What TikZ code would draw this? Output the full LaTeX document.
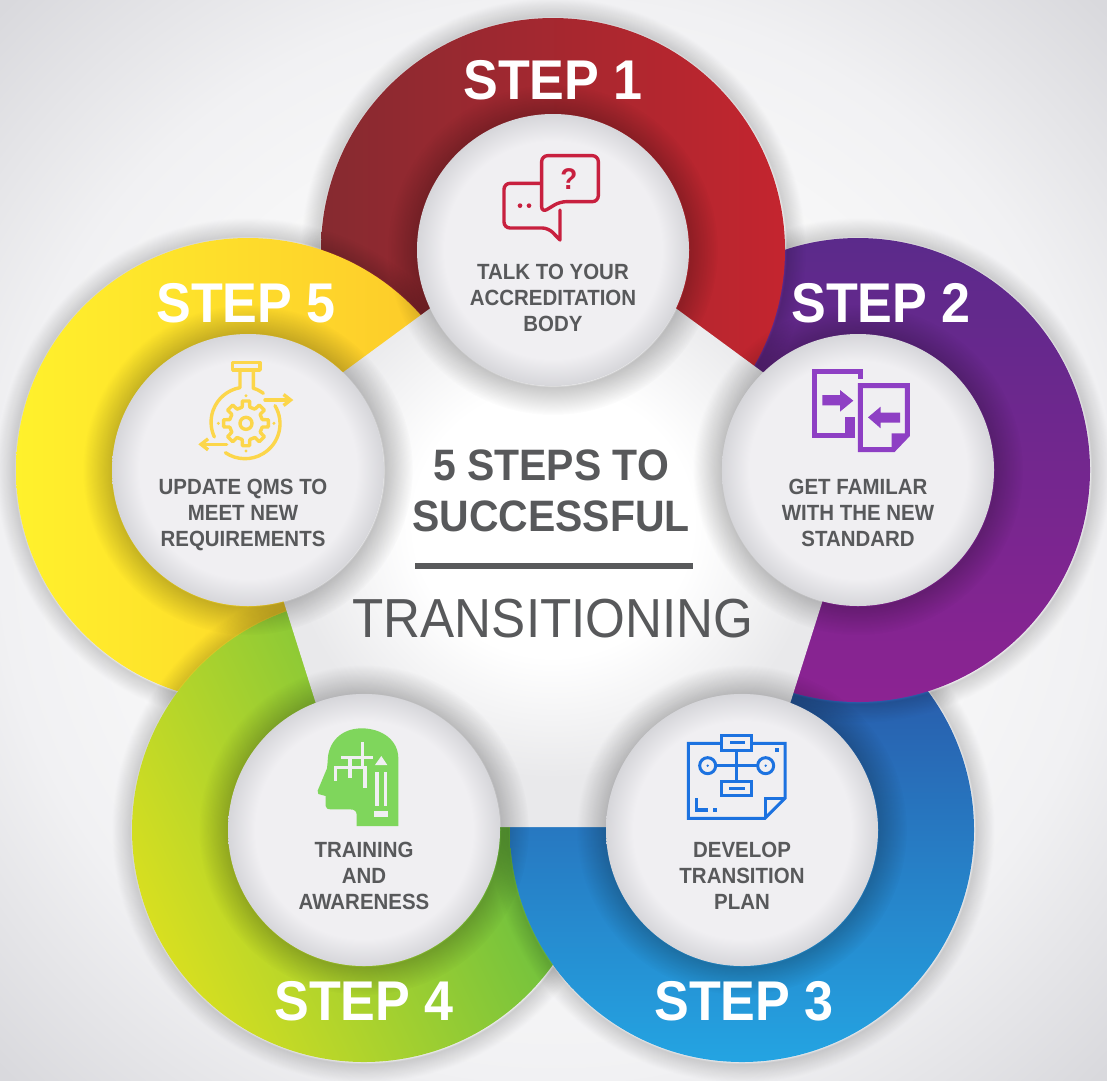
\documentclass[tikz,border=0pt]{standalone}
\usepackage{xcolor}
\usepackage{fontspec}
\setmainfont[FakeStretch=0.93]{Liberation Sans}
\usetikzlibrary{positioning, fadings, arrows.meta}

\definecolor{discgrey}{HTML}{F0EFF2}
\definecolor{discrim}{HTML}{D6D6DA}
\definecolor{inkgrey}{HTML}{58595B}
\definecolor{iconred}{HTML}{C8203F}
\definecolor{iconviolet}{HTML}{8E3FC4}
\definecolor{iconblue}{HTML}{1C72E0}
\definecolor{icongreen}{HTML}{7FD65C}
\definecolor{iconyellow}{HTML}{FCD64A}
\definecolor{backmid}{HTML}{F1F1F3}
\definecolor{backcorner}{HTML}{D9D9DD}
\definecolor{pentaedge}{HTML}{E9E9EB}
\definecolor{bluetop}{HTML}{2A4DA0}
\definecolor{bluebottom}{HTML}{24A4E2}

\pgfdeclareradialshading{backshade}{\pgfpointorigin}{color(0bp)=(white); color(15bp)=(white!98!black); color(25bp)=(backmid); color(35bp)=(backcorner); color(50bp)=(backcorner)}
\pgfdeclareradialshading{penta}{\pgfpointorigin}{color(0bp)=(white); color(11bp)=(white); color(21bp)=(pentaedge); color(50bp)=(pentaedge)}
\pgfdeclareradialshading{discshade}{\pgfpointorigin}{color(0bp)=(discgrey); color(20bp)=(discgrey); color(25bp)=(discrim); color(50bp)=(discrim)}
\pgfdeclareradialshading{discglow}{\pgfpointorigin}{color(0bp)=(transparent!100); color(20.4bp)=(transparent!100); color(20.6bp)=(transparent!78); color(25bp)=(transparent!100); color(50bp)=(transparent!100)}
\pgfdeclareradialshading{ringglow}{\pgfpointorigin}{color(0bp)=(transparent!100); color(22bp)=(transparent!100); color(22.2bp)=(transparent!84); color(24bp)=(transparent!100); color(50bp)=(transparent!100)}
\pgfdeclarefading{discfade}{\pgfuseshading{discglow}}
\pgfdeclarefading{ringfade}{\pgfuseshading{ringglow}}

\begin{document}
\begin{tikzpicture}[x=1pt, y=-1pt, on grid,
    ring/.style={circle, minimum size=464pt, inner sep=0pt},
    ringhalo/.style={black, path fading=ringfade},
    disc/.style={circle, minimum size=272pt, inner sep=0pt, shading=discshade},
    dischalo/.style={black, path fading=discfade},
    steptext/.style={white, font=\fontsize{56}{60}\selectfont\bfseries},
    disctext/.style={inkgrey, align=center, font=\fontsize{22}{26}\selectfont\bfseries},
    icon/.style={line width=3.4pt, line join=round, line cap=round},
    barb/.style={-{Straight Barb[length=7pt, width=11pt]}}]

    % Fond
    \useasboundingbox (0,0) rectangle (1107,1080);
    \shade[shading=backshade] (0,0) rectangle (1107,1080);

    % Centres des anneaux
    \coordinate (c1) at (553,250);
    \coordinate (c2) at (858,470);
    \coordinate (c3) at (742,830);
    \coordinate (c4) at (364,830);
    \coordinate (c5) at (248,470);

    % Anneaux
    \fill[ringhalo] (c3) circle (262);
    \node[ring, top color=bluetop, bottom color=bluebottom, shading angle=0] (ring3) at (c3) {};
    \fill[ringhalo] (c2) circle (262);
    \node[ring, top color={rgb,255:red,91;green,42;blue,139}, bottom color={rgb,255:red,140;green,35;blue,146}, shading angle=0] (ring2) at (c2) {};
    \fill[ringhalo] (c1) circle (262);
    \node[ring, top color={rgb,255:red,196;green,37;blue,47}, bottom color={rgb,255:red,134;green,42;blue,48}, shading angle=-90] (ring1) at (c1) {};
    \fill[ringhalo] (c5) circle (262);
    \node[ring, top color={rgb,255:red,253;green,198;blue,42}, bottom color={rgb,255:red,255;green,241;blue,44}, shading angle=-90] (ring5) at (c5) {};
    \fill[ringhalo] (c4) circle (262);
    \node[ring, top color={rgb,255:red,79;green,184;blue,72}, bottom color={rgb,255:red,216;green,223;blue,32}, shading angle=-65] (ring4) at (c4) {};

    % Le bleu repasse sur le vert
    \begin{scope}
        \clip (c4) circle (232);
        \fill[ringhalo] (c3) circle (262);
    \end{scope}
    \begin{scope}
        \clip (c4) circle (262);
        \node[ring, top color=bluetop, bottom color=bluebottom, shading angle=0] at (c3) {};
    \end{scope}

    % Pentagone central
    \shade[shading=penta] (553,218) -- (870,451) -- (751,827) -- (355,827) -- (236,451) -- cycle;

    % Disques
    \fill[dischalo] (c1) circle (165);
    \fill[dischalo] (c2) circle (165);
    \fill[dischalo] (c3) circle (165);
    \fill[dischalo] (c4) circle (165);
    \fill[dischalo] (c5) circle (165);
    \node[disc] (disc1) at (c1) {};
    \node[disc] (disc2) at (c2) {};
    \node[disc] (disc3) at (c3) {};
    \node[disc] (disc4) at (c4) {};
    \node[disc] (disc5) at (c5) {};

    % Titres des anneaux
    \node[steptext, above=170pt of disc1] (step1) {STEP 1};
    \node[steptext, above right=167pt and 23pt of disc2] (step2) {STEP 2};
    \node[steptext, below right=171pt and 2pt of disc3] (step3) {STEP 3};
    \node[steptext, below=171pt of disc4] (step4) {STEP 4};
    \node[steptext, above left=167pt and 2pt of disc5] (step5) {STEP 5};

    % Textes des disques
    \node[disctext, below=48pt of disc1] (text1) {TALK TO YOUR\\ACCREDITATION\\BODY};
    \node[disctext, below=43pt of disc2] (text2) {GET FAMILAR\\WITH THE NEW\\STANDARD};
    \node[disctext, below=46pt of disc3] (text3) {DEVELOP\\TRANSITION\\PLAN};
    \node[disctext, below=46pt of disc4] (text4) {TRAINING\\AND\\AWARENESS};
    \node[disctext, below=45pt of disc5, xshift=-5pt] (text5) {UPDATE QMS TO\\MEET NEW\\REQUIREMENTS};

    % Titre central
    \node[inkgrey, align=center, font=\fontsize{44}{51}\selectfont\bfseries] (title) at (551,491) {5 STEPS TO\\SUCCESSFUL};
    \node[inkgrey, font=\fontsize{55}{60}\selectfont] (trans) at (553,619) {TRANSITIONING};
    \coordinate (ruleL) at (415,566);
    \coordinate (ruleR) at (693,566);
    \draw[inkgrey, line width=6pt] (ruleL) -- (ruleR);

    % Icone : bulles
    \begin{scope}[shift={(480,140)}, x=.3333pt, y=-.3333pt, iconred, icon]
        \draw[rounded corners=6pt] (185,218) -- (185,47) -- (355,47) -- (355,185) -- (240,185) -- cycle;
        \draw[rounded corners=6pt] (180,130) -- (72,130) -- (72,264) -- (205,264) [sharp corners] -- (240,300) -- (240,210);
        \fill (120,197) circle (7);
        \fill (147,197) circle (7);
        \node[font=\fontsize{30}{30}\selectfont\bfseries] (ask) at (267,117) {?};
    \end{scope}

    % Icone : documents
    \begin{scope}[shift={(790,360)}, x=.3333pt, y=-.3333pt, iconviolet]
        \draw[line width=5pt] (195,226) -- (74,226) -- (74,35) -- (212,35) -- (212,58);
        \fill (165,172) -- (195,172) -- (195,233) -- (165,233) -- cycle;
        \draw[line width=5pt] (352,225) -- (352,77) -- (211,77) -- (211,269) -- (310,269) -- cycle;
        \fill (305,220) -- (358,220) -- (358,228) -- (312,275) -- (305,275) -- cycle;
        \fill (97,105) -- (150,105) -- (150,90) -- (190,122) -- (150,155) -- (150,136) -- (97,136) -- cycle;
        \fill (330,158) -- (272,158) -- (272,140) -- (234,172) -- (272,205) -- (272,188) -- (330,188) -- cycle;
    \end{scope}

    % Icone : plan
    \begin{scope}[shift={(670,725)}, x=.3333pt, y=-.3333pt, iconblue, line width=3pt]
        \draw (155,55) -- (55,55) -- (55,280) -- (285,280) -- (345,220) -- (345,55) -- (245,55);
        \draw (285,280) -- (285,220) -- (345,220);
        \draw (155,32) rectangle (245,75);
        \draw (180,52) -- (225,52);
        \draw (155,168) rectangle (245,212);
        \draw (178,190) -- (225,190);
        \draw (200,75) -- (200,168);
        \draw (137,122) -- (263,122);
        \draw (113,122) circle (24);
        \draw (287,122) circle (24);
        \fill (113,122) circle (4);
        \fill (287,122) circle (4);
        \fill (315,70) rectangle (328,82);
        \draw[line width=3.2pt] (80,220) -- (80,255) -- (115,255);
        \fill (128,248) rectangle (141,260);
    \end{scope}

    % Icone : tete
    \begin{scope}[shift={(305,720)}, x=.3333pt, y=-.3333pt]
        \fill[icongreen] (280,318) -- (280,115) .. controls (280,60) and (230,25) .. (170,25)
            .. controls (110,25) and (68,65) .. (68,125) -- (66,145) -- (38,212) -- (40,222) -- (62,228) -- (62,258)
            .. controls (62,265) and (68,268) .. (78,268) -- (135,268) .. controls (150,268) and (155,275) .. (155,285) -- (155,318) -- cycle;
        \draw[discgrey, line width=3.6pt] (108,112) -- (205,112);
        \draw[discgrey, line width=3.6pt] (172,66) -- (172,143);
        \draw[discgrey, line width=3.6pt] (92,182) -- (92,143) -- (185,143);
        \draw[discgrey, line width=3.6pt] (135,112) -- (135,175);
        \draw[discgrey, line width=3.6pt] (180,143) -- (180,203);
        \fill[discgrey] (210,135) -- (247,135) -- (229,108) -- cycle;
        \fill[discgrey] (210,155) rectangle (222,258);
        \fill[discgrey] (236,155) rectangle (247,258);
        \fill[discgrey] (208,272) rectangle (250,292);
    \end{scope}

    % Icone : fiole
    \begin{scope}[shift={(185,355)}, x=.3333pt, y=-.3333pt, iconyellow, icon]
        \draw (143,22) rectangle (225,45);
        \draw (165,45) -- (165,98) arc[start angle=260, end angle=155, radius=105];
        \draw (205,45) -- (205,100) .. controls (215,102) and (225,108) .. (235,115);
        \draw (270,152) arc[start angle=-31, end angle=124, radius=105];
        \draw[barb] (240,135) -- (325,135);
        \draw[barb] (125,268) -- (40,268);
        \draw[shift={(183,205)}] \foreach \a in {0,45,...,315} {(\a-13:50) -- (\a-9:68) -- (\a+9:68) -- (\a+13:50) -- (\a+32:50)};
        \draw (183,205) circle (18);
        \fill (183,122) circle (5);
        \fill (100,205) circle (5);
        \fill (267,205) circle (5);
        \fill (183,288) circle (5);
    \end{scope}

\end{tikzpicture}
\end{document}
